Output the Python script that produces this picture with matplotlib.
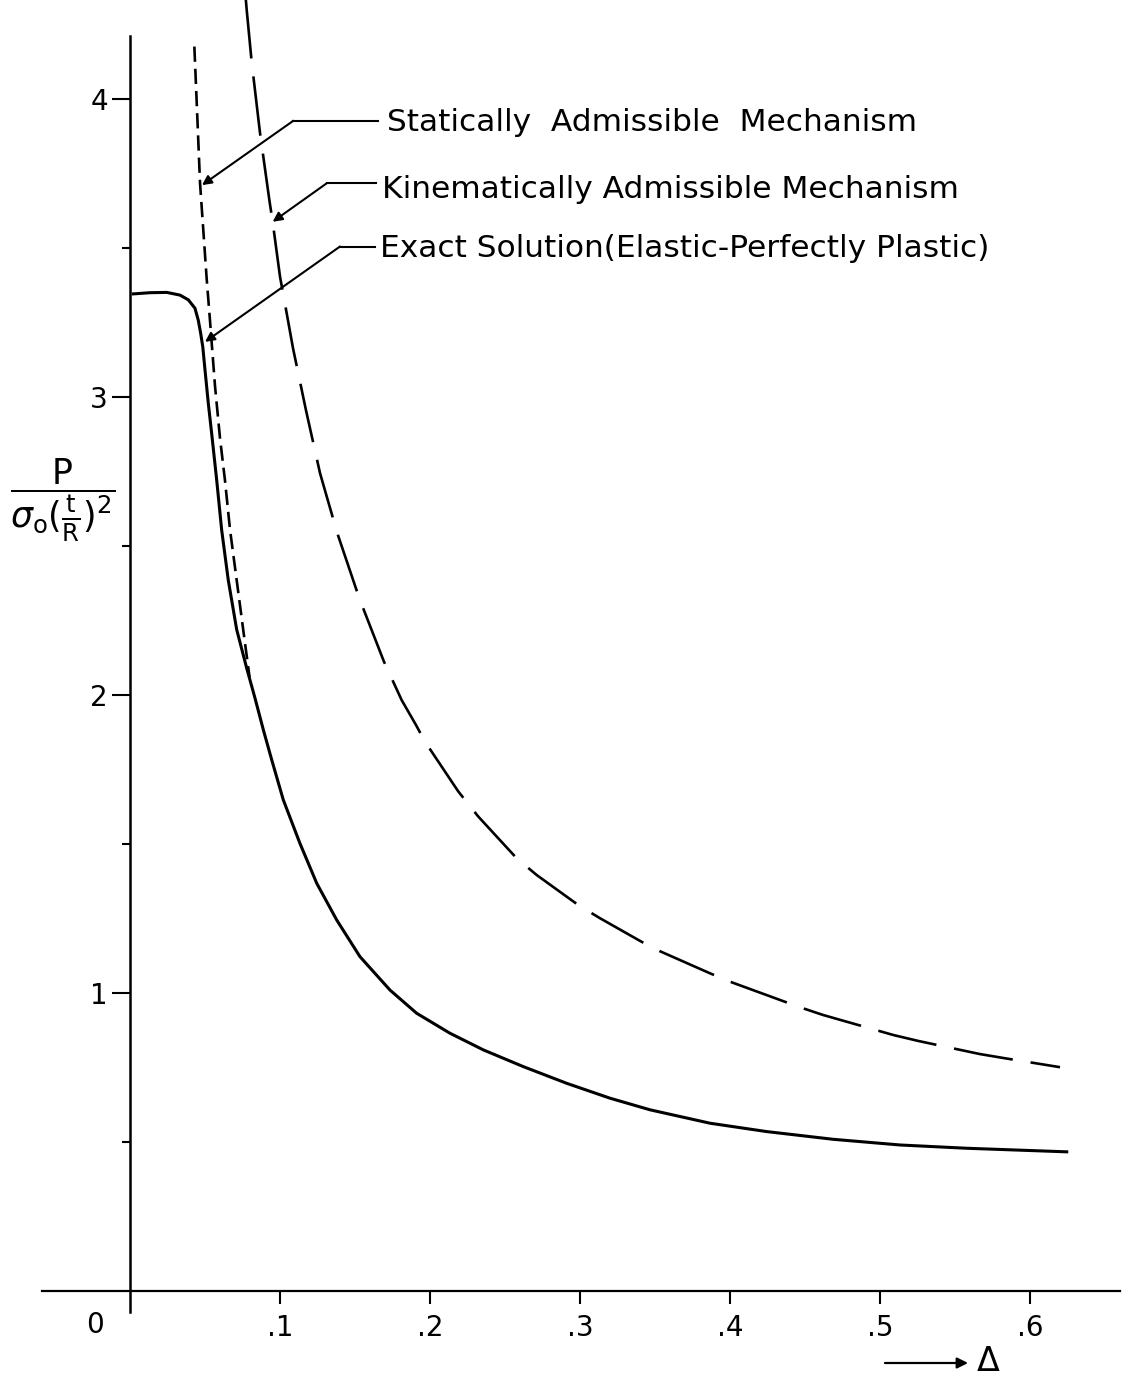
import numpy as np
import matplotlib
matplotlib.use("Agg")
import matplotlib.pyplot as plt

plt.rcParams['font.family'] = 'DejaVu Sans'
plt.rcParams['mathtext.fontset'] = 'dejavusans'
plt.rcParams['lines.scale_dashes'] = False

# exact solution (elastic - perfectly plastic), solid
exact_x = [0.0022, 0.0133, 0.0245, 0.0333, 0.0389, 0.0433, 0.0455, 0.0471, 0.0485, 0.050,
           0.0522, 0.0545, 0.0578, 0.0611, 0.0655, 0.0711, 0.0778, 0.0833, 0.0889, 0.0945,
           0.1022, 0.1133, 0.1245, 0.1378, 0.1533, 0.1733, 0.1911, 0.2133, 0.2356, 0.2622,
           0.2911, 0.320, 0.3467, 0.3867, 0.4244, 0.4689, 0.5133, 0.5578, 0.6245]
exact_y = [3.346, 3.350, 3.351, 3.342, 3.326, 3.298, 3.258, 3.214, 3.169, 3.091,
           2.979, 2.875, 2.721, 2.554, 2.386, 2.220, 2.090, 1.990, 1.883, 1.782,
           1.648, 1.502, 1.368, 1.245, 1.122, 1.010, 0.932, 0.865, 0.809, 0.753,
           0.697, 0.647, 0.608, 0.563, 0.535, 0.509, 0.490, 0.479, 0.467]

# statically admissible mechanism, short dashes
static_x = [0.0429, 0.0444, 0.0467, 0.0511, 0.0533, 0.0567, 0.060, 0.0633, 0.0667,
            0.0711, 0.0755, 0.0797]
static_y = [4.176, 3.997, 3.717, 3.398, 3.258, 3.035, 2.862, 2.721, 2.554,
            2.386, 2.218, 2.060]

# kinematically admissible mechanism, long dashes
kin_x = [0.0771, 0.0778, 0.0811, 0.0867, 0.0929, 0.0951, 0.100, 0.1027, 0.1087, 0.1173,
         0.1267, 0.1382, 0.1529, 0.1693, 0.1811, 0.1907, 0.1967, 0.2189, 0.2322, 0.2578,
         0.2711, 0.2989, 0.3133, 0.3389, 0.3489, 0.3867, 0.400, 0.4467, 0.4622, 0.5089,
         0.5256, 0.5667, 0.5833, 0.620]
kin_y = [4.340, 4.299, 4.125, 3.885, 3.661, 3.588, 3.404, 3.330, 3.163, 2.956,
         2.744, 2.543, 2.324, 2.112, 1.983, 1.899, 1.843, 1.676, 1.592, 1.452,
         1.396, 1.295, 1.251, 1.178, 1.150, 1.066, 1.038, 0.952, 0.926, 0.859,
         0.839, 0.795, 0.781, 0.751]

xticks = [0.1, 0.2, 0.3, 0.4, 0.5, 0.6]
xticklabels = ['.1', '.2', '.3', '.4', '.5', '.6']
yticks = [1, 2, 3, 4]
yminor = [0.5, 1.5, 2.5, 3.5]

labels = ['Statically  Admissible  Mechanism',
          'Kinematically Admissible Mechanism',
          'Exact Solution(Elastic-Perfectly Plastic)']
label_x = [0.1713, 0.168, 0.1667]
label_base = [3.893, 3.668, 3.470]
elbow_x = [0.1089, 0.1311, 0.140]
elbow_y = [3.927, 3.717, 3.505]
line_end_x = [0.1653, 0.1640, 0.1633]
tip_x = [0.048, 0.0951, 0.050]
tip_y = [3.711, 3.588, 3.185]

fig = plt.figure(figsize=(11.22, 13.76), dpi=100)
ax = fig.add_axes([0, 0, 1, 1])
ax.set_xlim(-130 / 1500, 992 / 1500)
ax.set_ylim(-85 / 298, 1291 / 298)

for s in ['top', 'right']:
    ax.spines[s].set_visible(False)
ax.spines['left'].set_position(('data', 0))
ax.spines['bottom'].set_position(('data', 0))
ax.spines['left'].set_bounds(-0.07, 4.21)
ax.spines['bottom'].set_bounds(-0.0587, 0.66)
ax.spines['left'].set_linewidth(1.8)
ax.spines['bottom'].set_linewidth(1.6)

ax.set_xticks(xticks)
ax.set_xticklabels(xticklabels)
ax.set_yticks(yticks)
ax.set_yticks(yminor, minor=True)
ax.tick_params(axis='x', direction='out', length=9.5, width=1.5, pad=7, labelsize=20)
ax.tick_params(axis='y', which='major', direction='out', length=13, width=1.5, pad=3, labelsize=20)
ax.tick_params(axis='y', which='minor', direction='out', length=6, width=1.5)

ax.plot(exact_x, exact_y, color='black', lw=2.2, solid_joinstyle='round')
ax.plot(static_x, static_y, color='black', lw=1.9, dashes=(11, 5))
ax.plot(kin_x, kin_y, color='black', lw=1.9, dashes=(43, 13))

for i in range(3):
    ax.text(label_x[i], label_base[i], labels[i], fontsize=22.5, ha='left', va='baseline')
    ax.plot([elbow_x[i], line_end_x[i]], [elbow_y[i], elbow_y[i]], color='black', lw=1.5)
    ax.annotate('', xy=(tip_x[i], tip_y[i]), xytext=(elbow_x[i], elbow_y[i]),
                arrowprops=dict(arrowstyle='-|>', mutation_scale=14, lw=1.5,
                                color='black', shrinkA=0, shrinkB=0))

ax.text(-0.0233, -0.114, '0', fontsize=20, ha='center', va='center')

ax.text(-0.0453, 2.654,
        r'$\dfrac{\mathrm{P}}{\sigma_{\mathrm{o}}(\frac{\mathrm{t}}{\mathrm{R}})^{2}}$',
        fontsize=25, ha='center', va='center')

ax.annotate('', xy=(0.5587, -0.2416), xytext=(0.5033, -0.2416),
            arrowprops=dict(arrowstyle='-|>', mutation_scale=16, lw=1.6,
                            color='black', shrinkA=0, shrinkB=0))
ax.text(0.572, -0.236, r'$\Delta$', fontsize=24, ha='center', va='center')

fig.savefig('out.png', dpi=100)
